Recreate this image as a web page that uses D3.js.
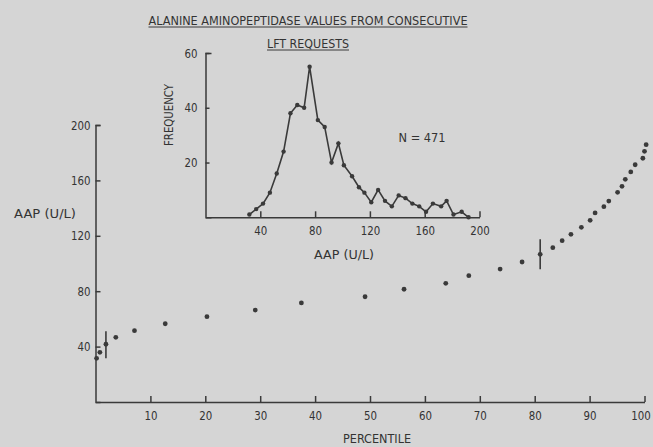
<!DOCTYPE html>
<html>
<head>
<meta charset="utf-8">
<script src="https://cdn.jsdelivr.net/npm/d3@7"></script>
<style>
  body { margin: 0; background: #d5d5d5; }
  svg text { font-family: "DejaVu Sans Condensed", "Liberation Sans Narrow", "DejaVu Sans", sans-serif; font-stretch: condensed; fill: #333; }
  .axis path, .axis line { stroke: #3a3a3a; stroke-width: 1.5; }
</style>
</head>
<body>
<script>
// main chart: AAP value at each percentile
var pctile = [0.2, 0.8, 1.9, 3.7, 7.1, 12.7, 20.3, 29.1, 37.5, 49.1, 56.2, 63.8, 68.0, 73.7, 77.7, 81.0,
              83.3, 85.0, 86.6, 88.5, 90.1, 91.0, 92.6, 93.5, 95.1, 95.9, 96.5, 97.5, 98.3, 99.7, 100.0, 100.3];
var aap = [31.5, 35.9, 41.7, 46.7, 51.5, 56.5, 61.6, 66.4, 71.5, 76.0, 81.4, 85.7, 91.2, 96.0, 101.1, 106.6,
           111.4, 116.5, 121.1, 126.1, 131.2, 136.5, 141.0, 145.1, 151.4, 155.7, 160.8, 166.1, 171.3, 176.0, 181.0, 185.8];
var errPct = [1.9, 81.0];
var errLow = [31.5, 95.8];
var errHigh = [51, 117.5];
var xTicks = [10, 20, 30, 40, 50, 60, 70, 80, 90, 100];
var yTicks = [40, 80, 120, 160, 200];

// inset: frequency distribution
var binX = [32, 37, 42, 47, 52, 57, 62, 67, 72, 76, 82, 87, 92, 97, 101, 107, 112, 116, 121, 126, 131,
            136, 141, 146, 151, 156, 161, 166, 172, 176, 181, 187, 192];
var freq = [1, 3, 5, 9, 16, 24, 38, 41, 40, 55, 35.5, 33, 20, 27, 19, 15, 11, 9, 5.5, 10, 6,
            4, 8, 7, 5, 4, 2, 5, 4, 6, 1, 2, 0];
var insetXTicks = [40, 80, 120, 160, 200];
var insetYTicks = [20, 40, 60];

var W = 653, H = 447;
var ink = "#3a3a3a";

var svg = d3.select("body").append("svg")
  .attr("width", W).attr("height", H);

// narrow typewriter-like tick labels
function styleTicks(g) {
  g.selectAll("text")
    .style("font-size", "13px")
    .attr("fill", "#333")
    .attr("textLength", function() { return this.textContent.length * 6.5; })
    .attr("lengthAdjust", "spacingAndGlyphs");
}

// ---------- main chart ----------
var x = d3.scaleLinear().domain([0, 100]).range([95.5, 644.5]);
var y = d3.scaleLinear().domain([0, 200]).range([402, 125]);

svg.append("g").attr("class", "axis")
  .attr("transform", "translate(0,402)")
  .call(d3.axisBottom(x).tickValues(xTicks).tickSize(-6).tickSizeOuter(0).tickPadding(9))
  .call(styleTicks)
  .call(g => g.selectAll(".tick").filter(d => d === 100).select("text").attr("dx", -4));

svg.append("g").attr("class", "axis")
  .attr("transform", "translate(95.5,0)")
  .call(d3.axisLeft(y).tickValues(yTicks).tickSize(-5).tickSizeOuter(-5).tickPadding(5))
  .call(styleTicks);

svg.selectAll(".err").data(errPct).enter().append("line")
  .attr("x1", d => x(d)).attr("x2", d => x(d))
  .attr("y1", (d, i) => y(errLow[i])).attr("y2", (d, i) => y(errHigh[i]))
  .attr("stroke", ink).attr("stroke-width", 1.6);

svg.selectAll(".pt").data(pctile).enter().append("circle")
  .attr("cx", d => x(d)).attr("cy", (d, i) => y(aap[i]))
  .attr("r", 2.4).attr("fill", ink);

svg.append("text").attr("x", 45).attr("y", 213).attr("dy", "0.35em")
  .attr("text-anchor", "middle").style("font-size", "13px")
  .attr("textLength", 62).attr("lengthAdjust", "spacingAndGlyphs")
  .text("AAP (U/L)");

svg.append("text").attr("x", 377).attr("y", 439).attr("dy", "0.35em")
  .attr("text-anchor", "middle").style("font-size", "12px")
  .attr("textLength", 68).attr("lengthAdjust", "spacingAndGlyphs")
  .text("PERCENTILE");

// ---------- title ----------
var titles = [
  {t: "ALANINE AMINOPEPTIDASE VALUES FROM CONSECUTIVE", y: 20, w: 319},
  {t: "LFT REQUESTS", y: 43, w: 82}
];
titles.forEach(function(d) {
  svg.append("text").attr("x", 308).attr("y", d.y).attr("dy", "0.35em")
    .attr("text-anchor", "middle").style("font-size", "13px")
    .attr("textLength", d.w).attr("lengthAdjust", "spacingAndGlyphs")
    .text(d.t);
  svg.append("line").attr("x1", 308 - d.w / 2).attr("x2", 308 + d.w / 2)
    .attr("y1", d.y + 7).attr("y2", d.y + 7)
    .attr("stroke", ink).attr("stroke-width", 1);
});

// ---------- inset ----------
var ix = d3.scaleLinear().domain([0, 200]).range([205.5, 479.5]);
var iy = d3.scaleLinear().domain([0, 60]).range([217.3, 53]);

svg.append("g").attr("class", "axis")
  .attr("transform", "translate(0,217.3)")
  .call(d3.axisBottom(ix).tickValues(insetXTicks).tickSize(-6).tickSizeOuter(0).tickPadding(8))
  .call(styleTicks);

svg.append("g").attr("class", "axis")
  .attr("transform", "translate(205.5,0)")
  .call(d3.axisLeft(iy).tickValues(insetYTicks).tickSize(-4).tickSizeOuter(-6).tickPadding(8))
  .call(styleTicks);

var line = d3.line().x(d => ix(d[0])).y(d => iy(d[1]));
var pts = binX.map((d, i) => [d, freq[i]]);

svg.append("path").datum(pts)
  .attr("d", line).attr("fill", "none")
  .attr("stroke", ink).attr("stroke-width", 1.6);

svg.selectAll(".ipt").data(pts).enter().append("circle")
  .attr("cx", d => ix(d[0])).attr("cy", d => iy(d[1]))
  .attr("r", 2.2).attr("fill", ink);

svg.append("text")
  .attr("transform", "translate(168,115) rotate(-90)")
  .attr("dy", "0.35em").attr("text-anchor", "middle").style("font-size", "13px")
  .attr("textLength", 62).attr("lengthAdjust", "spacingAndGlyphs")
  .text("FREQUENCY");

svg.append("text").attr("x", 422).attr("y", 137).attr("dy", "0.35em")
  .attr("text-anchor", "middle").style("font-size", "13px")
  .attr("textLength", 47).attr("lengthAdjust", "spacingAndGlyphs")
  .text("N = 471");

svg.append("text").attr("x", 344).attr("y", 254).attr("dy", "0.35em")
  .attr("text-anchor", "middle").style("font-size", "13px")
  .attr("textLength", 60).attr("lengthAdjust", "spacingAndGlyphs")
  .text("AAP (U/L)");
</script>
</body>
</html>
